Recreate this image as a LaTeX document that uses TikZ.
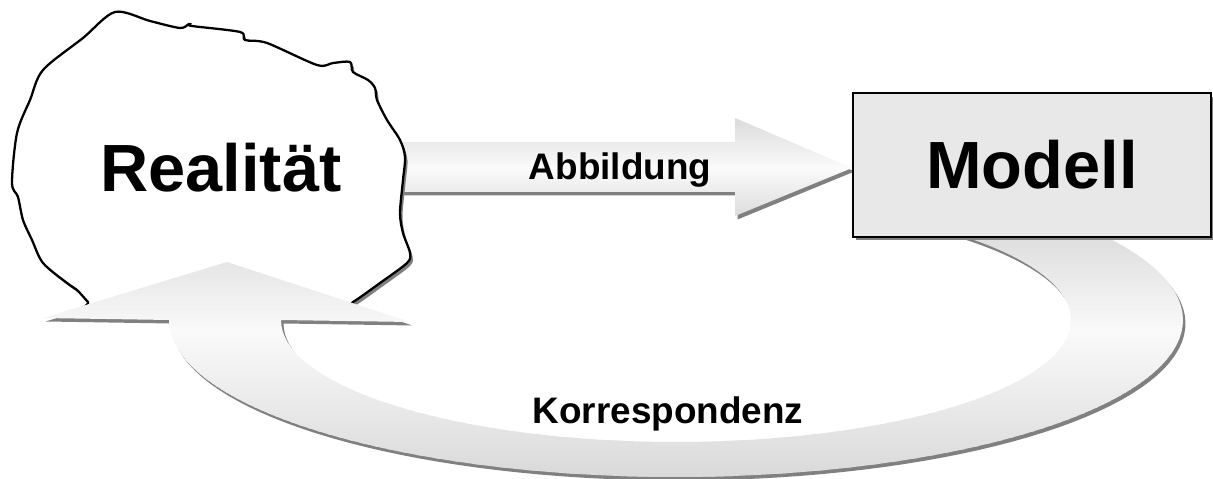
\documentclass[tikz,border=0pt]{standalone}
\usepackage{fontspec}
\setmainfont{Liberation Sans}
\definecolor{shadowgray}{HTML}{808080}
\definecolor{boxgray}{HTML}{E8E8E8}
% outlines of the two big arrows
\newcommand\abbildungpath{(380,142) -- (735,142) -- (735,118) -- (852,168) -- (735,216) -- (735,192) -- (380,192) -- cycle}
\newcommand\korrpath{plot[domain=-40:180, samples=90] ({676+507*cos(\x)}, {320+157*sin(\x)})
  -- (169,320) -- (43,318) -- (227,262) -- (410,322) -- (281,320)
  -- plot[domain=180:-50, samples=90] ({676+395*cos(\x)}, {320+122*sin(\x)}) -- cycle}
\begin{document}
\begin{tikzpicture}[x=0.02cm, y=-0.02cm,
  shadow/.style={fill=shadowgray, transform canvas={xshift=0.05cm, yshift=-0.07cm}},
  big/.style={font=\fontsize{38}{40}\selectfont\bfseries, inner sep=0pt},
  small/.style={font=\fontsize{21}{24}\selectfont\bfseries, inner sep=0pt}]
\useasboundingbox (0,0) rectangle (1213,479);

% straight arrow, banded grey
\path[shadow] \abbildungpath;
\begin{scope}
  \clip \abbildungpath;
  \foreach \y in {116,119,...,218} {
    \pgfmathsetmacro\p{3+25*abs(\y-167)/49}
    \fill[gray!\p] (370,\y) rectangle (860,\y+3.5);
  }
\end{scope}

% blob
\path[shadow] plot[smooth cycle, tension=0.5] coordinates {
  (115,12) (150,21) (180,28) (189,24) (192,26) (240,32) (245,40) (267,43)
  (317,65) (333,63) (350,62) (353,72) (368,80) (375,88) (377,100) (387,120)
  (400,140) (405,157) (403,180) (400,213) (403,233) (410,253) (407,263)
  (380,283) (353,302) (330,314) (100,314) (88,302) (77,290) (67,283)
  (43,263) (32,240) (23,220) (18,197) (12,183) (17,133) (30,100) (43,70) (83,38)};
\path[fill=white, draw=black, line width=1.3pt] plot[smooth cycle, tension=0.5] coordinates {
  (115,12) (150,21) (180,28) (189,24) (192,26) (240,32) (245,40) (267,43)
  (317,65) (333,63) (350,62) (353,72) (368,80) (375,88) (377,100) (387,120)
  (400,140) (405,157) (403,180) (400,213) (403,233) (410,253) (407,263)
  (380,283) (353,302) (330,314) (100,314) (88,302) (77,290) (67,283)
  (43,263) (32,240) (23,220) (18,197) (12,183) (17,133) (30,100) (43,70) (83,38)};

% curved arrow, banded grey
\path[shadow] \korrpath;
\begin{scope}
  \clip \korrpath;
  \foreach \y in {215,218,...,482} {
    \pgfmathsetmacro\p{\y<330 ? min(24,4+16*(330-\y)/68) : 4+26*(\y-330)/148}
    \fill[gray!\p] (30,\y) rectangle (1200,\y+3.5);
  }
\end{scope}

\node[draw=black, fill=boxgray, line width=1.3pt, minimum width=7.16cm, minimum height=2.88cm,
  preaction={shadow}, big] (modell) at (1032,165) {Modell};

\node[big, anchor=base] (realitaet) at (221,192) {Realität};
\node[small, anchor=base] (abbildung) at (620,180) {Abbildung};
\node[small, anchor=base] (korrespondenz) at (668,423) {Korrespondenz};
\end{tikzpicture}
\end{document}
